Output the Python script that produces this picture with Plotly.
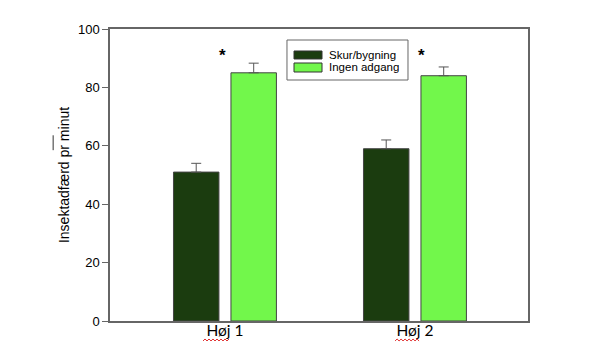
import plotly.graph_objects as go

categories = ["Høj 1", "Høj 2"]
skur = [51, 59]
skur_err = [3, 3]
ingen = [85, 84]
ingen_err = [3.3, 3]
star_y = [91, 91]
y_ticks = [0, 20, 40, 60, 80, 100]
series_names = ["Skur/bygning", "Ingen adgang"]
series_colors = ["#1b3c0f", "#72f74b"]

fig = go.Figure()
for name, vals, errs, col in zip(series_names, [skur, ingen], [skur_err, ingen_err], series_colors):
    fig.add_trace(go.Bar(
        x=categories, y=vals, name=name,
        marker=dict(color=col, line=dict(color="#444444", width=1)),
        error_y=dict(type="data", array=errs, arrayminus=[0] * len(errs), symmetric=False,
                     color="#555555", thickness=1, width=5),
    ))

for i, c in enumerate(categories):
    fig.add_annotation(x=c, y=star_y[i], xref="x", yref="y", text="<b>*</b>",
                       showarrow=False, xshift=-2 if i == 0 else 7,
                       font=dict(size=17, color="black", family="Arial"))

# manual legend
fig.add_shape(type="rect", xref="paper", yref="paper", x0=0.4234, x1=0.7129, y0=0.8253, y1=0.9623,
              line=dict(color="#666666", width=1), fillcolor="white", layer="above")
sw_y = [(0.8973, 0.9247), (0.8527, 0.8836)]
txt_y = [0.912, 0.869]
for i, (name, col) in enumerate(zip(series_names, series_colors)):
    fig.add_shape(type="rect", xref="paper", yref="paper", x0=0.4402, x1=0.5072,
                  y0=sw_y[i][0], y1=sw_y[i][1], fillcolor=col,
                  line=dict(color="#333333", width=1), layer="above")
    fig.add_annotation(xref="paper", yref="paper", x=0.5215, y=txt_y[i], text=name,
                       xanchor="left", yanchor="middle", showarrow=False,
                       height=12, borderpad=0,
                       font=dict(family="Arial", size=11.5, color="black"))

# overline (mean bar) next to axis title
fig.add_shape(type="line", xref="paper", yref="paper",
              x0=-0.136, x1=-0.136, y0=0.585, y1=0.636,
              line=dict(color="#333333", width=1))

# red spell-check squiggles under "Høj"
def squiggle(x0, x1, y):
    step = 2.0 / 418
    amp = 1.0 / 292
    pts = []
    x = x0
    k = 0
    while x <= x1:
        pts.append((x, y + (amp if k % 2 else -amp)))
        x += step
        k += 1
    return "M " + " L ".join(f"{px:.4f},{py:.4f}" for px, py in pts)

for xa, xb in [(0.2225, 0.287), (0.682, 0.742)]:
    fig.add_shape(type="path", xref="paper", yref="paper", path=squiggle(xa, xb, -0.065),
                  line=dict(color="#e03030", width=1))

fig.update_layout(
    width=600, height=361,
    margin=dict(l=102, r=80, t=21, b=48),
    paper_bgcolor="white", plot_bgcolor="white",
    barmode="group", bargap=0.395, bargroupgap=0.209,
    showlegend=False,
    font=dict(family="Arial", color="black"),
)
fig.update_xaxes(range=[-0.605, 1.595], showline=True, mirror=True,
                 linecolor="#666666", linewidth=1.5, ticks="",
                 tickfont=dict(family="Lato", size=15.5, color="black"),
                 ticklabelstandoff=-5,
                 showgrid=False)
fig.update_yaxes(range=[0, 100], tickvals=y_ticks, showline=True, mirror=True,
                 linecolor="#666666", linewidth=1.5, ticks="outside", ticklen=6,
                 tickcolor="#666666", showgrid=False, zeroline=False,
                 tickfont=dict(family="Arial", size=13, color="black"),
                 title=dict(text="Insektadfærd pr minut",
                            font=dict(family="Arial", size=14, color="black"),
                            standoff=5))

fig.write_html("out.html")
